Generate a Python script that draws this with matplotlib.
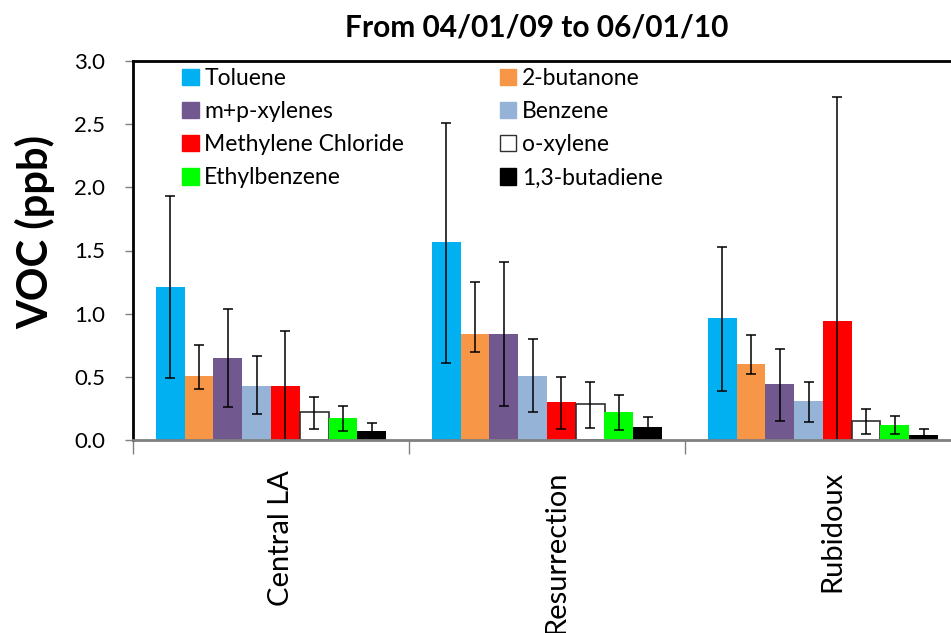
import numpy as np
import matplotlib.pyplot as plt
from matplotlib.patches import Patch

plt.rcParams['font.family'] = ['Lato', 'DejaVu Sans']

sites = ["Central LA", "Resurrection", "Rubidoux"]
compounds = ["Toluene", "2-butanone", "m+p-xylenes", "Benzene",
             "Methylene Chloride", "o-xylene", "Ethylbenzene", "1,3-butadiene"]
colors = ["#00B0F0", "#F79646", "#71588F", "#95B3D7",
          "#FF0000", "#FFFFFF", "#00FF00", "#000000"]

# mean values, one row per compound (Central LA, Resurrection, Rubidoux)
means = [
    [1.21, 1.565, 0.965],
    [0.51, 0.836, 0.60],
    [0.65, 0.842, 0.44],
    [0.43, 0.51, 0.306],
    [0.425, 0.30, 0.942],
    [0.22, 0.284, 0.15],
    [0.175, 0.22, 0.12],
    [0.075, 0.10, 0.038],
]
# error bar ends
err_hi = [
    [1.93, 2.51, 1.53],
    [0.75, 1.25, 0.834],
    [1.034, 1.406, 0.72],
    [0.662, 0.80, 0.462],
    [0.86, 0.50, 2.718],
    [0.343, 0.462, 0.243],
    [0.269, 0.354, 0.192],
    [0.132, 0.185, 0.084],
]
err_lo = [
    [0.49, 0.607, 0.388],
    [0.406, 0.694, 0.52],
    [0.261, 0.269, 0.148],
    [0.203, 0.222, 0.142],
    [0.0, 0.084, 0.0],
    [0.084, 0.098, 0.05],
    [0.069, 0.076, 0.045],
    [0.02, 0.03, 0.0],
]

fig = plt.figure(figsize=(9.51, 6.33), dpi=100)
ax = fig.add_axes([133 / 951, 1 - 440 / 633, 828 / 951, 379 / 633])

w = 1 / 9.6
x0 = np.arange(3) + 0.8 * w
for j, name in enumerate(compounds):
    m = np.array(means[j])
    lo = m - np.array(err_lo[j])
    hi = np.array(err_hi[j]) - m
    ec = "#303030" if name == "o-xylene" else "none"
    ax.bar(x0 + (j + 0.5) * w, m, width=w, color=colors[j], edgecolor=ec,
           linewidth=1.2, yerr=[lo, hi], capsize=3.5,
           error_kw=dict(ecolor="black", elinewidth=1.1, capthick=1.1))

ax.set_xlim(0, 3)
ax.set_ylim(0, 3.0)
ax.set_yticks(np.arange(0, 3.01, 0.5))
ax.set_yticklabels([f"{v:.1f}" for v in np.arange(0, 3.01, 0.5)])
ax.tick_params(axis="y", direction="out", length=6, width=1, color="#808080",
               labelsize=16, pad=14)
# labels sit a little right of the category centre, as in the original
ax.set_xticks(np.arange(3) + 0.535)
ax.set_xticklabels(sites, rotation=90, va="top", ha="center", fontsize=21)
ax.set_xticks([0, 1, 2, 3], minor=True)
ax.tick_params(axis="x", which="major", length=0, pad=22)
ax.tick_params(axis="x", which="minor", direction="out", length=10, width=1,
               color="#808080")

for s in ["top", "left"]:
    ax.spines[s].set_linewidth(2)
    ax.spines[s].set_color("black")
ax.spines["bottom"].set_linewidth(2)
ax.spines["bottom"].set_color("#808080")
ax.spines["right"].set_visible(False)

handles = [Patch(facecolor=c, edgecolor="#303030" if c == "#FFFFFF" else c,
                 linewidth=1) for c in colors]
leg_kw = dict(frameon=False, fontsize=16.5, handlelength=0.72, handleheight=0.72,
              handletextpad=0.25, labelspacing=0.53, borderpad=0, borderaxespad=0)
leg1 = ax.legend([handles[i] for i in (0, 2, 4, 6)],
                 [compounds[i] for i in (0, 2, 4, 6)],
                 loc="upper left", bbox_to_anchor=((182 - 133) / 828, 1 - 7 / 379),
                 **leg_kw)
ax.add_artist(leg1)
ax.legend([handles[i] for i in (1, 3, 5, 7)],
          [compounds[i] for i in (1, 3, 5, 7)],
          loc="upper left", bbox_to_anchor=((500 - 133) / 828, 1 - 7 / 379),
          **leg_kw)

fig.text(537 / 951, 1 - 27 / 633, "From 04/01/09 to 06/01/10", ha="center",
         va="center", fontsize=21.5, fontweight="bold")
fig.text(35 / 951, 1 - 232 / 633, "VOC (ppb)", rotation=90, ha="center",
         va="center", fontsize=30, fontweight="bold")

fig.savefig("out.png", dpi=100)
